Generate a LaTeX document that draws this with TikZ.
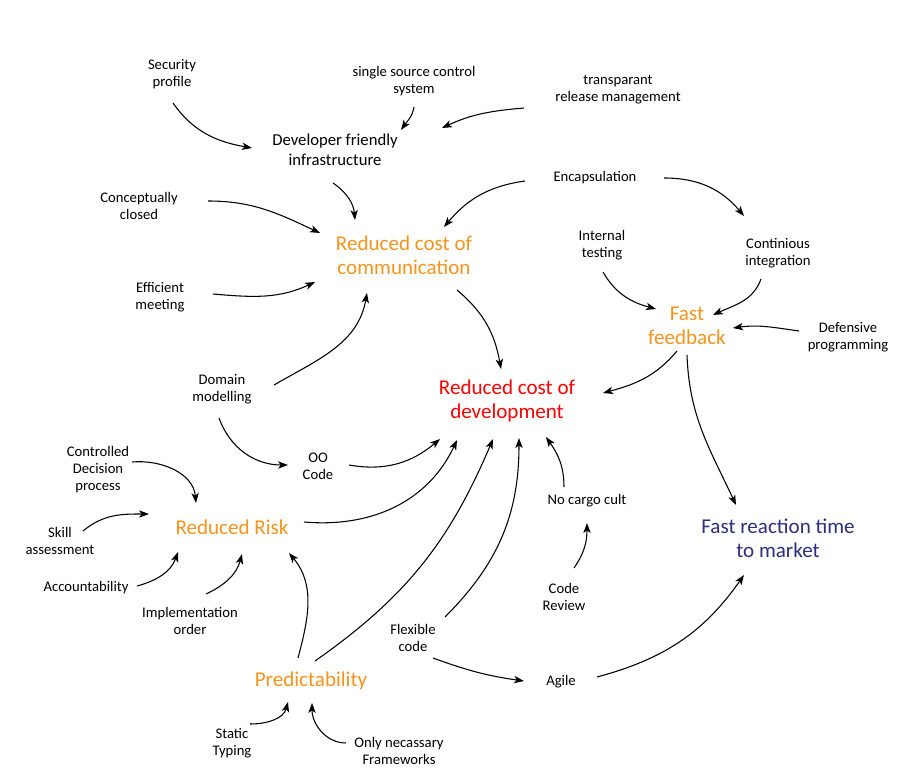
\documentclass[tikz,border=0pt]{standalone}
\usepackage{fontspec}
\setmainfont{Carlito}
\usepackage{tikz}
\usetikzlibrary{positioning,arrows.meta,calc}

\definecolor{goalorange}{HTML}{F7941D}
\definecolor{goalred}{HTML}{FF0000}
\definecolor{goalnavy}{HTML}{2C2E7E}

\begin{document}
\begin{tikzpicture}[x=0.75pt, y=0.75pt,
  every node/.style={inner sep=0pt, align=center},
  small/.style={font=\fontsize{11}{12.75}\selectfont},
  mid/.style={font=\fontsize{12.5}{15}\selectfont},
  big/.style={font=\fontsize{15.8}{18}\selectfont},
  arr/.style={line width=0.8pt, -{Stealth[length=7.5pt,width=5.5pt,inset=2pt]}}]
  \useasboundingbox (0,0) rectangle (924,-780);

  % top
  \node[small] (secprof) at (172,-74) {Security\\profile};
  \node[small] (ssc) at (414,-81) {single source control\\system};
  \node[small] (trm) at (618,-90) {transparant\\release management};
  \node[mid] (dfi) at (335,-150) {Developer friendly\\infrastructure};
  \node[small] (cc) at (139,-206) {Conceptually\\closed};
  \node[big, text=goalorange] (rcc) at (404,-255) {Reduced cost of\\communication};
  \node[small] (enc) at (595,-178) {Encapsulation};
  \node[small] (it) at (602,-245) {Internal\\testing};
  \node[small] (ci) at (778,-253) {Continious\\integration};
  \node[big, text=goalorange] (ff) at (687,-326) {Fast\\feedback};
  \node[small] (defprog) at (848,-337) {Defensive\\programming};
  \node[small] (em) at (160,-297) {Efficient\\meeting};
  % middle
  \node[small] (dm) at (222,-389) {Domain\\modelling};
  \node[big, text=goalred] (rcd) at (507,-401) {Reduced cost of\\development};
  \node[small] (cdp) at (98,-470) {Controlled\\Decision\\process};
  \node[small] (oo) at (318,-466) {OO\\Code};
  \node[small] (ncc) at (587,-501) {No cargo cult};
  \node[big, text=goalnavy] (frt) at (778,-538) {Fast reaction time\\to market};
  \node[small] (sa) at (60,-541) {Skill\\assessment};
  \node[big, text=goalorange] (rr) at (232,-527) {Reduced Risk};
  \node[small] (acc) at (86,-588) {Accountability};
  \node[small] (io) at (190,-621) {Implementation\\order};
  % bottom
  \node[small] (cr) at (564,-597) {Code\\Review};
  \node[small] (fc) at (413,-638) {Flexible\\code};
  \node[small] (agile) at (561,-682) {Agile};
  \node[big, text=goalorange] (pred) at (311,-681) {Predictability};
  \node[small] (st) at (232,-743) {Static\\Typing};
  \node[small] (onf) at (399,-751) {Only necassary\\Frameworks};

  % into infrastructure
  \draw[arr] ($(secprof)+(1,-29)$) to[out=-55,in=170] ($(dfi)+(-83,2)$);
  \draw[arr] ($(ssc)+(0,-26)$) to[out=-100,in=55] ($(dfi)+(66,20)$);
  \draw[arr] ($(trm)+(-94,-18)$) to[out=185,in=25] ($(dfi)+(107,22)$);
  % into communication
  \draw[arr] ($(dfi)+(-2,-33)$) to[out=-35,in=95] ($(rcc)+(-49,35)$);
  \draw[arr] ($(cc)+(69,5)$) to[out=0,in=155] ($(rcc)+(-84,22)$);
  \draw[arr] ($(em)+(53,3)$) to[out=-5,in=205] ($(rcc)+(-89,-27)$);
  \draw[arr] ($(dm)+(52,4)$) to[out=30,in=-100] ($(rcc)+(-37,-38)$);
  \draw[arr] ($(enc)+(-70,-3)$) to[out=188,in=50] ($(rcc)+(40,28)$);
  \draw[arr] ($(rcc)+(53,-35)$) to[out=-40,in=100] ($(rcd)+(-6,32)$);
  % feedback
  \draw[arr] ($(enc)+(69,0)$) to[out=0,in=130] ($(ci)+(-34,37)$);
  \draw[arr] ($(it)+(1,-27)$) to[out=-60,in=165] ($(ff)+(-31,17)$);
  \draw[arr] ($(ci)+(-17,-26)$) to[out=-110,in=25] ($(ff)+(26,11)$);
  \draw[arr] ($(defprog)+(-49,6)$) to[out=172,in=8] ($(ff)+(46,-2)$);
  \draw[arr] ($(ff)+(-10,-25)$) to[out=-130,in=15] ($(rcd)+(96,8)$);
  \draw[arr] ($(ff)+(0,-29)$) to[out=-88,in=115] ($(frt)+(-42,33)$);
  % into development
  \draw[arr] ($(ncc)+(-23,14)$) to[out=90,in=-55] ($(rcd)+(39,-36)$);
  \draw[arr] ($(cr)+(10,29)$) to[out=55,in=-90] ($(ncc)+(0,-22)$);
  \draw[arr] ($(agile)+(36,5)$) to[out=15,in=-125] ($(frt)+(-34,-37)$);
  \draw[arr] ($(dm)+(-3,-29)$) to[out=-70,in=180] ($(oo)+(-30,1)$);
  \draw[arr] ($(oo)+(31,1)$) to[out=-10,in=-140] ($(rcd)+(-67,-38)$);
  \draw[arr] ($(rr)+(72,5)$) to[out=-5,in=-115] ($(rcd)+(-50,-39)$);
  \draw[arr] ($(pred)+(4,20)$) to[out=35,in=-113] ($(rcd)+(-14,-38)$);
  \draw[arr] ($(fc)+(32,21)$) to[out=45,in=-90] ($(rcd)+(12,-37)$);
  % into risk
  \draw[arr] ($(cdp)+(34,8)$) to[out=5,in=95] ($(rr)+(-36,24)$);
  \draw[arr] ($(sa)+(23,10)$) to[out=40,in=180] ($(rr)+(-83,13)$);
  \draw[arr] ($(acc)+(51,2)$) to[out=15,in=-110] ($(rr)+(-54,-25)$);
  \draw[arr] ($(io)+(16,27)$) to[out=25,in=-105] ($(rr)+(10,-27)$);
  \draw[arr] ($(pred)+(-13,23)$) to[out=75,in=-50] ($(rr)+(57,-26)$);
  % predictability and agile
  \draw[arr] ($(fc)+(20,-20)$) to[out=-20,in=172] ($(agile)+(-37,1)$);
  \draw[arr] ($(st)+(18,19)$) to[out=0,in=-105] ($(pred)+(-23,-21)$);
  \draw[arr] ($(onf)+(-53,8)$) to[out=180,in=-90] ($(pred)+(1,-22)$);
\end{tikzpicture}
\end{document}
